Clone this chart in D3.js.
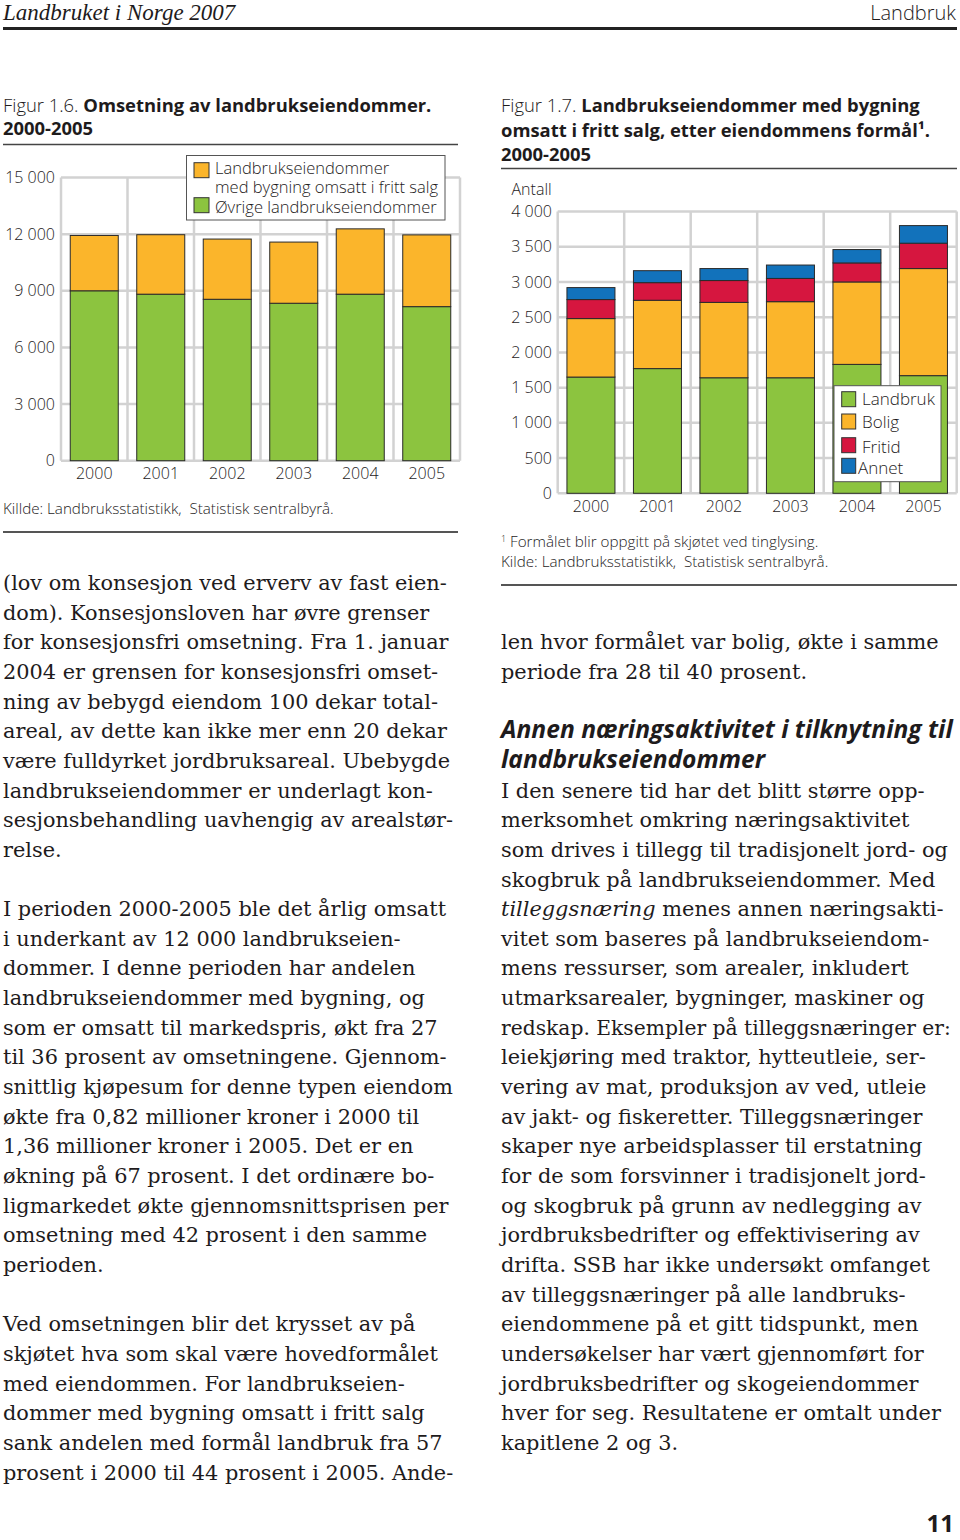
<!DOCTYPE html>
<html><head><meta charset="utf-8">
<script src="https://cdn.jsdelivr.net/npm/d3@7"></script>
<style>
html,body{margin:0;padding:0;background:#fff;}
svg{display:block;}
</style></head>
<body>
<script>
// ---------- DATA ----------
const years = ["2000","2001","2002","2003","2004","2005"];
// Figur 1.6 (stacked): Øvrige (green, bottom) + med bygning omsatt i fritt salg (orange, top)
const fig1Ovrige = [9000, 8820, 8550, 8340, 8820, 8160];
const fig1Fritt  = [2930, 3150, 3190, 3240, 3460, 3800];
const fig1Ticks  = [0, 3000, 6000, 9000, 12000, 15000];
const fig1Legend = ["Landbrukseiendommer|med bygning omsatt i fritt salg", "Øvrige landbrukseiendommer"];
// Figur 1.7 (stacked)
const fig2Landbruk = [1650, 1770, 1640, 1640, 1830, 1670];
const fig2Bolig    = [830, 970, 1070, 1080, 1170, 1520];
const fig2Fritid   = [270, 250, 310, 330, 270, 360];
const fig2Annet    = [170, 170, 170, 190, 190, 250];
const fig2Ticks    = [0, 500, 1000, 1500, 2000, 2500, 3000, 3500, 4000];
const fig2Series   = ["Landbruk", "Bolig", "Fritid", "Annet"];

const leftText = [
"(lov om konsesjon ved erverv av fast eien-",
"dom). Konsesjonsloven har øvre grenser",
"for konsesjonsfri omsetning. Fra 1. januar",
"2004 er grensen for konsesjonsfri omset-",
"ning av bebygd eiendom 100 dekar total-",
"areal, av dette kan ikke mer enn 20 dekar",
"være fulldyrket jordbruksareal. Ubebygde",
"landbrukseiendommer er underlagt kon-",
"sesjonsbehandling uavhengig av arealstør-",
"relse.",
"",
"I perioden 2000-2005 ble det årlig omsatt",
"i underkant av 12 000 landbrukseien-",
"dommer. I denne perioden har andelen",
"landbrukseiendommer med bygning, og",
"som er omsatt til markedspris, økt fra 27",
"til 36 prosent av omsetningene. Gjennom-",
"snittlig kjøpesum for denne typen eiendom",
"økte fra 0,82 millioner kroner i 2000 til",
"1,36 millioner kroner i 2005. Det er en",
"økning på 67 prosent. I det ordinære bo-",
"ligmarkedet økte gjennomsnittsprisen per",
"omsetning med 42 prosent i den samme",
"perioden.",
"",
"Ved omsetningen blir det krysset av på",
"skjøtet hva som skal være hovedformålet",
"med eiendommen. For landbrukseien-",
"dommer med bygning omsatt i fritt salg",
"sank andelen med formål landbruk fra 57",
"prosent i 2000 til 44 prosent i 2005. Ande-"
];
const rightText = [
"", "",
"len hvor formålet var bolig, økte i samme",
"periode fra 28 til 40 prosent.",
"",
"#Annen næringsaktivitet i tilknytning til",
"#landbrukseiendommer",
"I den senere tid har det blitt større opp-",
"merksomhet omkring næringsaktivitet",
"som drives i tillegg til tradisjonelt jord- og",
"skogbruk på landbrukseiendommer. Med",
"*tilleggsnæring* menes annen næringsakti-",
"vitet som baseres på landbrukseiendom-",
"mens ressurser, som arealer, inkludert",
"utmarksarealer, bygninger, maskiner og",
"redskap. Eksempler på tilleggsnæringer er:",
"leiekjøring med traktor, hytteutleie, ser-",
"vering av mat, produksjon av ved, utleie",
"av jakt- og fiskeretter. Tilleggsnæringer",
"skaper nye arbeidsplasser til erstatning",
"for de som forsvinner i tradisjonelt jord-",
"og skogbruk på grunn av nedlegging av",
"jordbruksbedrifter og effektivisering av",
"drifta. SSB har ikke undersøkt omfanget",
"av tilleggsnæringer på alle landbruks-",
"eiendommene på et gitt tidspunkt, men",
"undersøkelser har vært gjennomført for",
"jordbruksbedrifter og skogeiendommer",
"hver for seg. Resultatene er omtalt under",
"kapitlene 2 og 3."
];

// ---------- SETUP ----------
const W = 960, H = 1540;
const SANS = "'Open Sans', 'Noto Sans', sans-serif";
const SERIF = "'DejaVu Serif', serif";
const TXT = "#1e1b1c";
const COL = {green:"#8cc43f", orange:"#fbb52b", red:"#d6163f", blue:"#1272bb"};
const GRID = "#d2d2d2";
const svg = d3.select("body").append("svg").attr("width", W).attr("height", H);
const loc = d3.formatLocale({decimal:",", thousands:" ", grouping:[3], currency:["",""]});
const fmt = loc.format(",");

function fitSize(str, family, weight, style, target){
  const t = svg.append("text").attr("font-family", family).attr("font-weight", weight)
    .attr("font-style", style).attr("font-size", 20).text(str);
  const w = t.node().getComputedTextLength(); t.remove();
  return 20 * target / w;
}

// ---------- HEADER ----------
svg.append("text").attr("x", 3).attr("y", 20).attr("font-family", "'Liberation Serif', serif")
  .attr("font-style", "italic").attr("font-size", 23).attr("fill", TXT).text("Landbruket i Norge 2007");
svg.append("text").attr("x", 956).attr("y", 20).attr("text-anchor", "end").attr("font-family", SANS)
  .attr("font-weight", 300).attr("font-size", 20).attr("fill", TXT).text("Landbruk");
svg.append("line").attr("x1", 3).attr("x2", 957).attr("y1", 28.5).attr("y2", 28.5)
  .attr("stroke", "#222").attr("stroke-width", 3);

// ---------- TITLES ----------
function title(x, lines, ys){
  lines.forEach((ln, i) => {
    const t = svg.append("text").attr("x", x).attr("y", ys[i]).attr("font-family", SANS)
      .attr("font-size", 18.4).attr("fill", TXT);
    ln.forEach(seg => t.append("tspan").attr("font-weight", seg[1]).text(seg[0]));
  });
}
title(3, [[["Figur 1.6. ",300],["Omsetning av landbrukseiendommer.",700]],[["2000-2005",700]]], [112, 135]);
title(501, [[["Figur 1.7. ",300],["Landbrukseiendommer med bygning",700]],
            [["omsatt i fritt salg, etter eiendommens formål¹.",700]],[["2000-2005",700]]], [112, 137, 161]);
svg.append("line").attr("x1", 3).attr("x2", 458).attr("y1", 144.5).attr("y2", 144.5).attr("stroke", "#444").attr("stroke-width", 1.6);
svg.append("line").attr("x1", 501).attr("x2", 957).attr("y1", 168.5).attr("y2", 168.5).attr("stroke", "#444").attr("stroke-width", 1.6);

// ---------- CHART helper ----------
function chart(cfg){
  const g = svg.append("g");
  const x = d3.scaleBand().domain(years).range([cfg.x0, cfg.x1]).paddingInner(0.278).paddingOuter(0.139);
  const y = d3.scaleLinear().domain([0, cfg.max]).range([cfg.y0, cfg.yTop]);
  g.selectAll(".hg").data(cfg.ticks).join("line")
    .attr("x1", cfg.x0).attr("x2", cfg.x1).attr("y1", d => y(d)).attr("y2", d => y(d))
    .attr("stroke", GRID).attr("stroke-width", 2.5);
  g.selectAll(".vg").data(d3.range(years.length + 1)).join("line")
    .attr("x1", i => cfg.x0 + i * x.step()).attr("x2", i => cfg.x0 + i * x.step())
    .attr("y1", cfg.y0).attr("y2", cfg.yTop).attr("stroke", GRID).attr("stroke-width", 2.5);
  const rows = years.map((yr, i) => { const o = {year: yr}; cfg.keys.forEach((k, j) => o[k] = cfg.series[j][i]); return o; });
  const stack = d3.stack().keys(cfg.keys)(rows);
  stack.forEach((layer, j) => {
    g.selectAll(".b" + j).data(layer).join("rect")
      .attr("x", d => x(d.data.year)).attr("width", x.bandwidth())
      .attr("y", d => y(d[1])).attr("height", d => y(d[0]) - y(d[1]))
      .attr("fill", cfg.colors[j]).attr("stroke", "#2a2a2a").attr("stroke-width", 1);
  });
  const ya = g.append("g").attr("transform", `translate(${cfg.yLabelX},0)`)
    .call(d3.axisLeft(y).tickValues(cfg.ticks).tickFormat(fmt).tickSize(0).tickPadding(0));
  ya.select(".domain").remove();
  ya.selectAll("text").attr("font-family", SANS).attr("font-weight", 300).attr("font-size", 16).attr("fill", TXT);
  const xa = g.append("g").attr("transform", `translate(0,${cfg.y0})`)
    .call(d3.axisBottom(x).tickSize(0).tickPadding(cfg.xPad));
  xa.select(".domain").remove();
  xa.selectAll("text").attr("font-family", SANS).attr("font-weight", 300).attr("font-size", 16).attr("fill", TXT);
  return g;
}

// Figure 1.6
chart({x0: 61, x1: 460, y0: 460.7, yTop: 177.5, max: 15000, ticks: fig1Ticks, yLabelX: 55, xPad: 7,
  keys: ["ovrige", "fritt"], series: [fig1Ovrige, fig1Fritt], colors: [COL.green, COL.orange]});
svg.append("rect").attr("x", 186.5).attr("y", 155.5).attr("width", 258.5).attr("height", 64.5)
  .attr("fill", "#fff").attr("stroke", "#555").attr("stroke-width", 1);
[[COL.orange, 162.7], [COL.green, 197.7]].forEach(s => svg.append("rect").attr("x", 194).attr("y", s[1])
  .attr("width", 15).attr("height", 15).attr("fill", s[0]).attr("stroke", "#333").attr("stroke-width", 1));
const l1 = fig1Legend[0].split("|");
[[l1[0], 174], [l1[1], 192.5], [fig1Legend[1], 213]].forEach(t => svg.append("text").attr("x", 215).attr("y", t[1])
  .attr("font-family", SANS).attr("font-weight", 300).attr("font-size", 16.5).attr("fill", TXT).text(t[0]));
svg.append("text").attr("x", 3).attr("y", 513.5).attr("font-family", SANS).attr("font-weight", 300)
  .attr("font-size", 15.2).attr("fill", TXT).attr("xml:space", "preserve").text("Killde: Landbruksstatistikk,  Statistisk sentralbyrå.");
svg.append("line").attr("x1", 3).attr("x2", 458).attr("y1", 532).attr("y2", 532).attr("stroke", "#555").attr("stroke-width", 2);

// Figure 1.7
chart({x0: 557.7, x1: 956.7, y0: 493.3, yTop: 211.5, max: 4000, ticks: fig2Ticks, yLabelX: 552, xPad: 7,
  keys: fig2Series, series: [fig2Landbruk, fig2Bolig, fig2Fritid, fig2Annet],
  colors: [COL.green, COL.orange, COL.red, COL.blue]});
svg.append("text").attr("x", 511.5).attr("y", 195).attr("font-family", SANS).attr("font-weight", 300)
  .attr("font-size", 16).attr("fill", TXT).text("Antall");
svg.append("rect").attr("x", 834).attr("y", 385.7).attr("width", 107).attr("height", 96)
  .attr("fill", "#fff").attr("stroke", "#555").attr("stroke-width", 1);
const leg2 = [[391.7, 405], [414, 428.3], [437.7, 453], [458.3, 474]];
const leg2Col = [COL.green, COL.orange, COL.red, COL.blue];
fig2Series.forEach((s, i) => {
  svg.append("rect").attr("x", 841.7).attr("y", leg2[i][0]).attr("width", 14).attr("height", 15)
    .attr("fill", leg2Col[i]).attr("stroke", "#333").attr("stroke-width", 1);
  svg.append("text").attr("x", i === 3 ? 858 : 862).attr("y", leg2[i][1]).attr("font-family", SANS).attr("font-weight", 300)
    .attr("font-size", 17).attr("fill", TXT).text(s);
});
const fn = svg.append("text").attr("x", 501).attr("y", 546.7).attr("font-family", SANS).attr("font-weight", 300)
  .attr("font-size", 15.2).attr("fill", TXT);
fn.append("tspan").attr("font-size", 9).attr("dy", -5).text("1");
fn.append("tspan").attr("dy", 5).text(" Formålet blir oppgitt på skjøtet ved tinglysing.");
svg.append("text").attr("x", 501).attr("y", 566.7).attr("font-family", SANS).attr("font-weight", 300)
  .attr("font-size", 15.2).attr("fill", TXT).attr("xml:space", "preserve").text("Kilde: Landbruksstatistikk,  Statistisk sentralbyrå.");
svg.append("line").attr("x1", 501).attr("x2", 957).attr("y1", 585).attr("y2", 585).attr("stroke", "#555").attr("stroke-width", 2);

// ---------- BODY TEXT ----------
const bodySize = fitSize(leftText[0], SERIF, 400, "normal", 444);
const headSize = fitSize(rightText[5].slice(1), SANS, 700, "italic", 452);
const base0 = 590, lh = 29.65, maxW = 450;
function body(x, lines){
  lines.forEach((ln, i) => {
    if (!ln) return;
    const yy = base0 + i * lh;
    if (ln[0] === "#") {
      svg.append("text").attr("x", x).attr("y", yy).attr("font-family", SANS).attr("font-weight", 700)
        .attr("font-style", "italic").attr("font-size", headSize).attr("fill", TXT).text(ln.slice(1));
      return;
    }
    const t = svg.append("text").attr("x", x).attr("y", yy).attr("font-family", SERIF)
      .attr("font-size", bodySize).attr("fill", TXT);
    ln.split("*").forEach((seg, k) => { if (seg) t.append("tspan").attr("font-style", k % 2 ? "italic" : "normal").text(seg); });
    const w = t.node().getComputedTextLength();
    if (w > maxW) t.attr("font-size", bodySize * maxW / w);
  });
}
body(3, leftText);
body(501, rightText);

svg.append("text").attr("x", 954).attr("y", 1532).attr("text-anchor", "end").attr("font-family", SANS)
  .attr("font-weight", 700).attr("font-size", 24).attr("fill", TXT).text("11");
</script>
</body></html>
